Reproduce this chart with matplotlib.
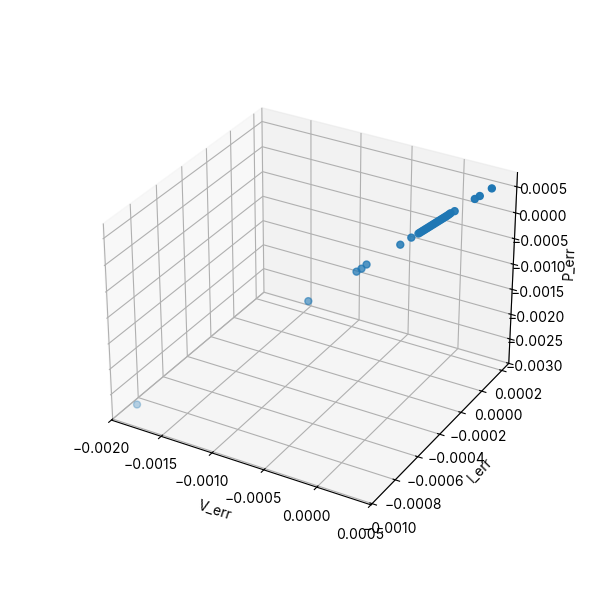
import matplotlib
matplotlib.use('Agg')
import matplotlib.pyplot as plt

plt.rcParams['font.family'] = ['Inter', 'DejaVu Sans']

v_err = [-0.001846, -0.000779, -0.000473, -0.000442, -0.000411, -0.000199, -0.000131,
         -0.000087, -0.000078, -0.000069, -0.000060, -0.000051, -0.000042, -0.000033,
         -0.000024, -0.000015, -0.000006, 0.000003, 0.000012, 0.000021, 0.000030,
         0.000039, 0.000048, 0.000057, 0.000066, 0.000075, 0.000084, 0.000093, 0.000102,
         0.000111, 0.000136, 0.000260, 0.000291, 0.000365]
i_err = [-0.000925, -0.000391, -0.000248, -0.000233, -0.000217, -0.000116, -0.000082,
         -0.000060, -0.000056, -0.000051, -0.000047, -0.000042, -0.000038, -0.000033,
         -0.000029, -0.000024, -0.000020, -0.000015, -0.000011, -0.000006, -0.000001,
         0.000003, 0.000008, 0.000012, 0.000017, 0.000021, 0.000026, 0.000030, 0.000035,
         0.000039, 0.000052, 0.000114, 0.000129, 0.000166]
p_err = [-0.002773, -0.001176, -0.000705, -0.000658, -0.000591, -0.000281, -0.000171,
         -0.000110, -0.000096, -0.000082, -0.000068, -0.000054, -0.000040, -0.000026,
         -0.000012, 0.000002, 0.000016, 0.000030, 0.000044, 0.000058, 0.000072,
         0.000086, 0.000100, 0.000114, 0.000128, 0.000142, 0.000156, 0.000170, 0.000187,
         0.000204, 0.000234, 0.000420, 0.000466, 0.000583]
x_ticks = [-0.0020, -0.0015, -0.0010, -0.0005, 0.0000, 0.0005]
y_ticks = [-0.0010, -0.0008, -0.0006, -0.0004, -0.0002, 0.0000, 0.0002]
z_ticks = [-0.0030, -0.0025, -0.0020, -0.0015, -0.0010, -0.0005, 0.0000, 0.0005]

fig = plt.figure(figsize=(6, 6), dpi=100)
ax = fig.add_subplot(111, projection='3d')
ax.scatter(v_err, i_err, p_err, s=25)
ax.set_xlim(-0.0020, 0.0005)
ax.set_ylim(-0.00101, 0.00027)
ax.set_zlim(-0.0030, 0.00077)
ax.set_xticks(x_ticks)
ax.set_yticks(y_ticks)
ax.set_zticks(z_ticks)
ax.set_xlabel('V_err')
ax.set_ylabel('I_err')
ax.set_zlabel('P_err')
fig.savefig('out.png', dpi=100)
